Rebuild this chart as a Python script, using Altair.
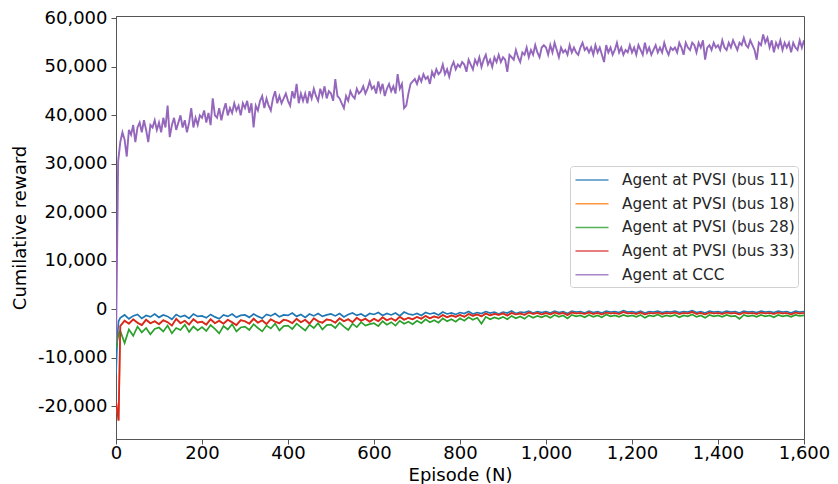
import altair as alt
import pandas as pd

# ---- data (values in thousands) ----
ccc_episodes = list(range(0, 1601, 5))
ccc_k = [
    -7.0, 30.5, 34.5, 36.5, 35.0, 31.5, 37.0, 36.0, 38.0, 34.5, 37.5, 38.5, 36.5, 39.0, 37.0, 34.5, 38.0, 37.5, 39.0, 37.0,
    38.5, 36.5, 39.5, 37.5, 42.0, 35.5, 38.0, 39.5, 37.0, 38.5, 40.0, 37.5, 39.0, 36.5, 38.5, 41.5, 37.5, 39.5, 38.0, 40.0,
    39.5, 41.0, 38.5, 40.5, 38.0, 43.5, 40.0, 39.5, 41.5, 39.0, 41.0, 42.5, 40.0, 41.5, 40.5, 42.5, 41.0, 42.0, 40.0, 42.5,
    41.5, 43.0, 40.5, 42.5, 37.5, 42.0, 41.0, 43.0, 44.0, 41.5, 43.5, 42.0, 41.0, 43.5, 45.0, 42.5, 44.0, 42.5, 43.5, 44.5,
    43.0, 42.0, 45.0, 43.5, 46.5, 42.5, 44.5, 43.0, 44.5, 42.5, 45.0, 43.5, 45.5, 44.0, 43.0, 45.5, 44.0, 46.0, 43.5, 45.0,
    44.5, 43.0, 47.5, 44.0, 43.5, 42.5, 41.5, 44.0, 43.0, 45.0, 44.0, 43.5, 45.5, 44.5, 45.0, 46.0, 44.5, 45.5, 47.0, 45.5,
    46.0, 44.5, 47.0, 45.0, 46.5, 44.0, 45.5, 46.5, 45.0, 46.0, 44.5, 48.5, 45.5, 46.5, 41.5, 42.0, 44.5, 46.5, 47.0, 47.5,
    46.5, 48.0, 47.0, 48.5, 47.5, 48.0, 46.5, 49.0, 48.0, 49.5, 48.5, 49.0, 50.5, 48.5, 49.5, 48.0, 50.0, 51.0, 49.5, 50.5,
    50.0, 51.0, 50.5, 49.0, 51.5, 50.5, 49.5, 51.5, 50.5, 52.0, 50.0, 51.5, 52.5, 50.5, 51.5, 50.0, 52.0, 51.0, 52.5, 51.0,
    52.0, 51.5, 49.0, 52.5, 52.0, 51.5, 53.5, 52.0, 51.0, 53.0, 52.5, 54.0, 52.0, 53.5, 52.5, 54.5, 53.0, 52.0, 54.0, 54.5,
    54.0, 52.5, 54.5, 53.0, 55.0, 53.5, 52.0, 54.0, 53.0, 53.5, 52.5, 54.5, 53.0, 54.0, 53.0, 52.5, 54.0, 55.0, 53.5, 54.0,
    53.0, 54.0, 52.5, 54.5, 53.0, 54.0, 52.5, 51.0, 54.5, 53.0, 54.0, 52.5, 53.5, 55.0, 53.0, 54.0, 52.5, 53.5, 53.0, 54.5,
    53.0, 54.0, 52.5, 54.5, 53.5, 52.5, 55.0, 53.0, 54.0, 52.5, 53.5, 54.5, 53.0, 54.0, 53.0, 55.0, 53.5, 52.5, 54.0, 53.5,
    54.0, 53.0, 55.0, 54.0, 52.5, 55.0, 54.0, 53.5, 55.0, 54.5, 53.0, 55.0, 54.0, 55.5, 51.5, 54.0, 54.5, 53.5, 55.0, 54.0,
    54.5, 53.5, 55.5, 54.0, 53.5, 55.0, 54.0, 55.5, 54.5, 53.5, 55.0, 54.5, 56.0, 54.5, 54.0, 55.5, 54.5, 53.5, 51.5, 55.0,
    54.5, 56.7, 55.0, 56.0, 54.0, 55.5, 53.0, 55.0, 54.0, 55.5, 53.5, 55.0, 54.0, 55.0, 53.0, 55.0, 54.0, 53.5, 55.5, 54.0,
    55.5,
]

pv_episodes = [0, 3, 6] + list(range(10, 1601, 10))

bus11_k = [
    -13.5, -6.0, -2.5,
    -1.8, -1.2, -2.0, -1.4, -1.1, -1.9, -1.3, -1.6, -1.0,
    -1.7, -1.2, -1.5, -2.1, -1.1, -1.6, -1.3, -1.9, -1.0, -1.5,
    -1.4, -1.8, -1.1, -1.6, -2.0, -1.2, -1.5, -1.0, -1.7, -1.3,
    -1.2, -1.7, -1.0, -1.5, -1.9, -1.1, -1.4, -0.9, -1.6, -1.2,
    -1.3, -0.8, -1.5, -1.1, -1.7, -1.0, -1.4, -0.9, -1.5, -1.2,
    -1.0, -1.4, -0.9, -1.6, -1.1, -0.8, -1.3, -1.0, -1.5, -0.9,
    -1.1, -0.7, -1.3, -0.9, -1.2, -0.8, -1.4, -0.6, -1.0, -1.2,
    -0.9, -1.3, -0.7, -1.0, -0.8, -1.2, -0.6, -1.0, -0.8, -1.1,
    -0.7, -0.9, -0.5, -1.0, -0.7, -0.9, -0.5, -0.8, -0.6, -1.0,
    -0.6, -0.8, -0.4, -0.9, -0.6, -0.7, -0.4, -0.8, -0.5, -0.7,
    -0.5, -0.8, -0.4, -0.7, -0.5, -0.9, -0.4, -0.6, -0.5, -0.8,
    -0.4, -0.7, -0.5, -0.8, -0.4, -0.6, -0.5, -0.7, -0.3, -0.6,
    -0.5, -0.7, -0.4, -0.8, -0.5, -0.6, -0.4, -0.7, -0.5, -0.6,
    -0.4, -0.7, -0.5, -0.6, -0.3, -0.7, -0.5, -0.8, -0.4, -0.6,
    -0.5, -0.7, -0.4, -0.6, -0.5, -0.8, -0.4, -0.6, -0.5, -0.7,
    -0.4, -0.6, -0.5, -0.7, -0.4, -0.6, -0.5, -0.8, -0.4, -0.6,
    -0.5,
]

bus33_k = [
    -19.0, -21.0, -23.0,
    -3.5, -2.4, -3.0, -2.1, -2.8, -3.3, -2.2, -2.9, -2.5,
    -3.1, -2.3, -2.7, -3.4, -2.0, -2.9, -2.4, -3.2, -2.1, -2.8,
    -2.6, -3.2, -2.1, -2.9, -2.4, -3.0, -2.2, -2.7, -3.3, -2.3,
    -2.5, -3.0, -2.0, -2.8, -2.3, -3.1, -2.1, -2.6, -2.9, -2.2,
    -2.4, -2.9, -2.0, -2.7, -2.2, -3.0, -1.9, -2.5, -2.8, -2.1,
    -2.3, -2.8, -1.9, -2.5, -2.1, -2.7, -1.8, -2.4, -2.0, -2.6,
    -2.0, -2.5, -1.7, -2.3, -1.9, -2.4, -1.6, -2.2, -1.8, -2.1,
    -1.6, -2.0, -1.4, -1.9, -1.5, -1.8, -1.2, -1.7, -1.3, -1.6,
    -1.2, -1.6, -1.0, -1.4, -1.1, -1.5, -0.9, -1.3, -1.0, -1.2,
    -0.9, -1.3, -0.8, -1.1, -0.9, -1.2, -0.7, -1.0, -0.8, -1.1,
    -0.8, -1.1, -0.7, -1.0, -0.8, -1.2, -0.7, -0.9, -0.8, -1.0,
    -0.7, -1.0, -0.8, -1.1, -0.7, -0.9, -0.8, -1.0, -0.6, -0.9,
    -0.8, -1.0, -0.7, -1.1, -0.8, -0.9, -0.7, -1.0, -0.8, -0.9,
    -0.7, -1.0, -0.8, -0.9, -0.6, -1.0, -0.8, -1.1, -0.7, -0.9,
    -0.8, -1.0, -0.7, -0.9, -0.8, -1.1, -0.7, -0.9, -0.8, -1.0,
    -0.7, -0.9, -0.8, -1.0, -0.7, -0.9, -0.8, -1.1, -0.7, -0.9,
    -0.8,
]

# bus 18 is fully hidden under bus 33 in the reference
bus18_k = list(bus33_k)

bus28_k = [
    -8.0, -6.5, -5.0,
    -4.5, -7.0, -4.2, -5.5, -3.6, -4.8, -3.9, -5.2, -4.1,
    -3.8, -4.6, -3.4, -5.0, -3.9, -4.3, -3.2, -4.7, -3.6, -4.4,
    -3.7, -4.5, -3.3, -4.1, -5.0, -3.5, -4.2, -3.1, -4.6, -3.8,
    -3.6, -4.3, -3.1, -3.9, -4.6, -3.4, -4.0, -3.0, -4.4, -3.5,
    -3.4, -4.1, -3.0, -3.7, -4.4, -3.2, -3.9, -2.9, -4.2, -3.3,
    -3.2, -3.9, -2.8, -3.6, -4.3, -3.0, -3.7, -2.7, -3.4, -3.1,
    -2.9, -3.5, -2.5, -3.2, -2.7, -3.4, -2.4, -3.0, -2.6, -3.1,
    -2.4, -2.9, -2.1, -2.7, -2.3, -2.8, -1.9, -2.5, -2.1, -2.6,
    -1.9, -2.4, -1.7, -2.2, -1.8, -3.0, -1.6, -2.1, -1.7, -2.0,
    -1.6, -2.1, -1.4, -1.9, -1.5, -2.0, -1.3, -1.8, -1.4, -1.7,
    -1.3, -1.8, -1.2, -1.6, -1.3, -1.9, -1.2, -1.5, -1.3, -1.7,
    -1.2, -1.6, -1.3, -1.7, -1.1, -1.5, -1.3, -1.6, -1.2, -1.5,
    -1.3, -1.6, -1.2, -1.8, -1.3, -1.5, -1.1, -1.6, -1.3, -1.5,
    -1.2, -1.7, -1.3, -1.5, -1.1, -1.6, -1.3, -1.8, -1.2, -1.5,
    -1.3, -1.6, -1.2, -1.5, -1.4, -2.0, -1.2, -1.5, -1.3, -1.6,
    -1.2, -1.5, -1.3, -1.7, -1.2, -1.5, -1.3, -1.6, -1.2, -1.4,
    -1.3,
]

series_names = [
    "Agent at PVSI (bus 11)",
    "Agent at PVSI (bus 18)",
    "Agent at PVSI (bus 28)",
    "Agent at PVSI (bus 33)",
    "Agent at CCC",
]
series_colors = ["#1f77b4", "#ff7f0e", "#2ca02c", "#d62728", "#9467bd"]

y_ticks = [-20000, -10000, 0, 10000, 20000, 30000, 40000, 50000, 60000]
x_ticks = [0, 200, 400, 600, 800, 1000, 1200, 1400, 1600]

# ---- build long table ----
frames = []
for name, eps, vals in [
    (series_names[0], pv_episodes, bus11_k),
    (series_names[1], pv_episodes, bus18_k),
    (series_names[2], pv_episodes, bus28_k),
    (series_names[3], pv_episodes, bus33_k),
    (series_names[4], ccc_episodes, ccc_k),
]:
    frames.append(pd.DataFrame({
        "episode": eps,
        "reward": [v * 1000 for v in vals],
        "agent": name,
    }))

color_scale = alt.Scale(domain=series_names, range=series_colors)

x_enc = alt.X(
    "episode:Q",
    scale=alt.Scale(domain=[0, 1600], nice=False, zero=False),
    axis=alt.Axis(values=x_ticks, title="Episode (N)",
                  labelExpr="format(datum.value, ',')",
                  labelOverlap=False, labelFlush=False,
                  titlePadding=4, labelPadding=0),
)
y_enc = alt.Y(
    "reward:Q",
    scale=alt.Scale(domain=[-26812, 60516], nice=False, zero=False),
    axis=alt.Axis(values=y_ticks, title="Cumilative reward",
                  labelExpr="replace(format(datum.value, ','), '\u2212', '-')",
                  labelOverlap=False, labelFlush=False,
                  titlePadding=8, labelPadding=4),
)

layers = []
for i, (name, df) in enumerate(zip(series_names, frames)):
    sw = 1.9 if name == "Agent at CCC" else 1.7
    layers.append(
        alt.Chart(df).mark_line(strokeWidth=sw, clip=True).encode(
            x=x_enc,
            y=y_enc,
            color=alt.Color(
                "agent:N",
                scale=color_scale,
                legend=alt.Legend(
                    title=None,
                    orient="none",
                    legendX=454,
                    legendY=150,
                    symbolType="M-1.65,0H1.65",
                    symbolSize=400,
                    symbolStrokeWidth=1.5,
                    symbolOpacity=0.8,
                    symbolOffset=8,
                    labelFontSize=15.3,
                    labelFont="DejaVu Sans",
                    labelColor="#262626",
                    labelOffset=19,
                    labelLimit=0,
                    rowPadding=3.7,
                    padding=3,
                    strokeColor="#d0d0d0",
                    fillColor="white",
                    cornerRadius=3,
                ),
            ),
        )
    )

chart = alt.layer(*layers).properties(
    width=688,
    height=423,
    autosize=alt.AutoSizeParams(type="none"),
    padding={"left": 108, "top": 8, "right": 26, "bottom": 45},
).configure_view(
    stroke="#555555", strokeWidth=1
).configure_axis(
    labelFont="DejaVu Sans",
    titleFont="DejaVu Sans",
    labelFontSize=18,
    titleFontSize=18,
    titleFontWeight="normal",
    labelColor="#000000",
    titleColor="#000000",
    domainColor="#555555",
    tickColor="#555555",
    tickSize=5,
    grid=False,
)

chart.save("out.html", embed_options={"renderer": "svg", "actions": False})
